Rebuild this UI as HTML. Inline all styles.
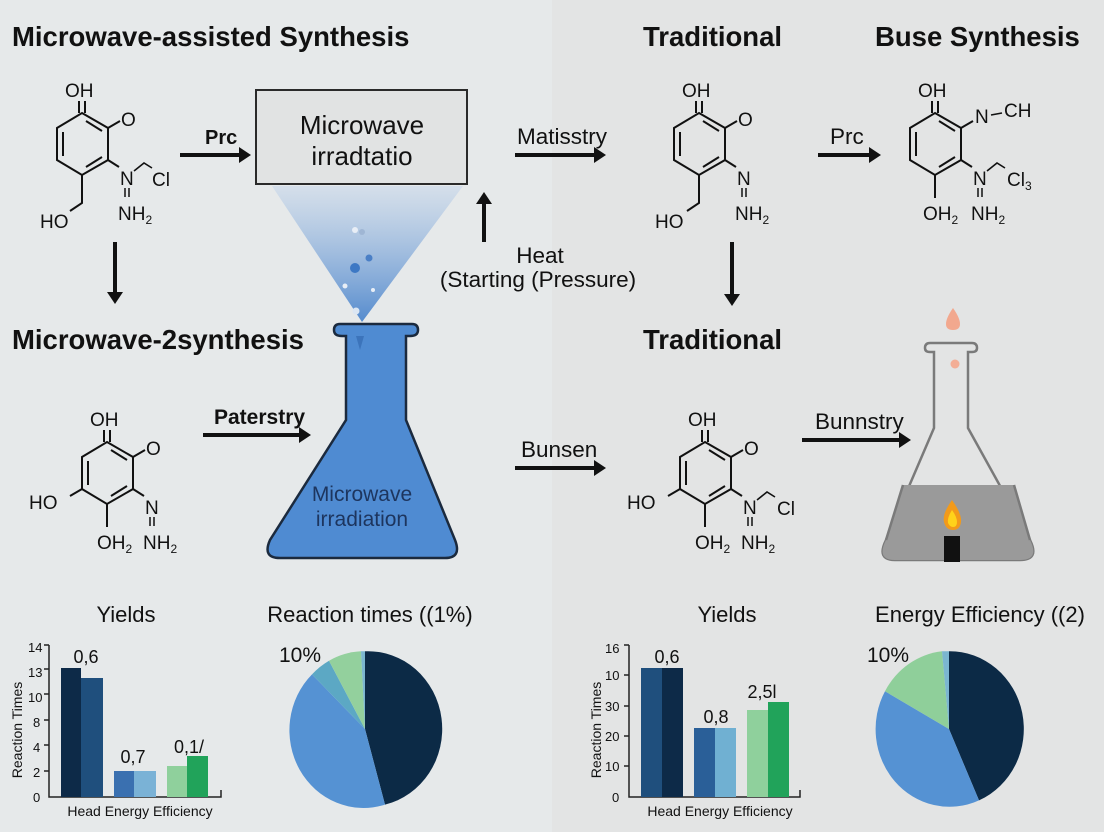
<!DOCTYPE html>
<html><head><meta charset="utf-8"><style>
html,body{margin:0;padding:0;width:1104px;height:832px;overflow:hidden;background:#e6e9ea}
svg{display:block}
text{font-family:"Liberation Sans",sans-serif;fill:#111}
.t{font-weight:bold;font-size:27.5px}
.m{font-size:19px}
.s{font-size:12px}
.l{font-size:22.5px}
</style></head><body>
<svg width="1104" height="832" viewBox="0 0 1104 832" xmlns="http://www.w3.org/2000/svg">
<defs>
<linearGradient id="beam" x1="0" y1="0" x2="0" y2="1">
<stop offset="0" stop-color="#c9d8ea" stop-opacity="0.6"/>
<stop offset="1" stop-color="#4d86cc" stop-opacity="0.95"/>
</linearGradient>
<marker id="ah" markerWidth="4" markerHeight="4" refX="1" refY="2" orient="auto" markerUnits="strokeWidth">
<path d="M0,0 L3,2 L0,4 Z" fill="#111"/>
</marker>
<g id="ring" fill="none" stroke="#111" stroke-width="2">
<path d="M0,0 L26,15 L26,47 L0,62 L-25,47 L-25,15 Z"/>
<path d="M4,8 L20,18 M20,44 L4,54 M-19,19 L-19,43"/>
<path d="M-3,0 L-3,-12 M3,0 L3,-12"/>
<path d="M26,15 L38,8"/>
<path d="M26,47 L37,54"/>
</g>
</defs>
<rect x="552" y="0" width="552" height="832" fill="#e3e4e4"/>

<!-- titles -->
<text x="12" y="46" class="t">Microwave-assisted Synthesis</text>
<text x="643" y="46" class="t">Traditional</text>
<text x="875" y="46" class="t">Buse Synthesis</text>
<text x="12" y="349" class="t">Microwave-2synthesis</text>
<text x="643" y="349" class="t">Traditional</text>

<!-- molecule 1 -->
<g transform="translate(82,113)">
<use href="#ring"/>
<text x="-17" y="-16" class="m">OH</text>
<text x="39" y="13" class="m">O</text>
<text x="38" y="72" class="m">N</text>
<path d="M43,75 L43,84 M47,75 L47,84" stroke="#111" stroke-width="1.5"/>
<text x="36" y="107" class="m">NH<tspan class="s" dy="4">2</tspan></text>
<path d="M52,58 L62,50 L70,55" fill="none" stroke="#111" stroke-width="1.6"/>
<text x="70" y="73" class="m">Cl</text>
<path d="M0,62 L0,90 L-12,98" fill="none" stroke="#111" stroke-width="2"/>
<text x="-42" y="115" class="m">HO</text>
</g>
<!-- molecule 2 -->
<g transform="translate(699,113)">
<use href="#ring"/>
<text x="-17" y="-16" class="m">OH</text>
<text x="39" y="13" class="m">O</text>
<text x="38" y="72" class="m">N</text>
<path d="M43,75 L43,84 M47,75 L47,84" stroke="#111" stroke-width="1.5"/>
<text x="36" y="107" class="m">NH<tspan class="s" dy="4">2</tspan></text>
<path d="M0,62 L0,90 L-12,98" fill="none" stroke="#111" stroke-width="2"/>
<text x="-44" y="115" class="m">HO</text>
</g>
<!-- molecule 3 -->
<g transform="translate(935,113)">
<use href="#ring"/>
<text x="-17" y="-16" class="m">OH</text>
<text x="40" y="10" class="m">N</text>
<path d="M56,2 L67,0" stroke="#111" stroke-width="1.6"/>
<text x="69" y="4" class="m">CH</text>
<text x="38" y="72" class="m">N</text>
<path d="M43,75 L43,84 M47,75 L47,84" stroke="#111" stroke-width="1.5"/>
<text x="36" y="107" class="m">NH<tspan class="s" dy="4">2</tspan></text>
<path d="M52,58 L62,50 L70,55" fill="none" stroke="#111" stroke-width="1.6"/>
<text x="72" y="73" class="m">Cl<tspan class="s" dy="4">3</tspan></text>
<path d="M0,62 L0,85" stroke="#111" stroke-width="2"/>
<text x="-12" y="107" class="m">OH<tspan class="s" dy="4">2</tspan></text>
</g>
<!-- molecule 4 -->
<g transform="translate(107,442)">
<use href="#ring"/>
<text x="-17" y="-16" class="m">OH</text>
<text x="39" y="13" class="m">O</text>
<text x="38" y="72" class="m">N</text>
<path d="M43,75 L43,84 M47,75 L47,84" stroke="#111" stroke-width="1.5"/>
<text x="36" y="107" class="m">NH<tspan class="s" dy="4">2</tspan></text>
<path d="M-25,47 L-37,54" stroke="#111" stroke-width="2"/>
<text x="-78" y="67" class="m">HO</text>
<path d="M0,62 L0,85" stroke="#111" stroke-width="2"/>
<text x="-10" y="107" class="m">OH<tspan class="s" dy="4">2</tspan></text>
</g>
<!-- molecule 5 -->
<g transform="translate(705,442)">
<use href="#ring"/>
<text x="-17" y="-16" class="m">OH</text>
<text x="39" y="13" class="m">O</text>
<text x="38" y="72" class="m">N</text>
<path d="M43,75 L43,84 M47,75 L47,84" stroke="#111" stroke-width="1.5"/>
<text x="36" y="107" class="m">NH<tspan class="s" dy="4">2</tspan></text>
<path d="M52,58 L62,50 L70,55" fill="none" stroke="#111" stroke-width="1.6"/>
<text x="72" y="73" class="m">Cl</text>
<path d="M-25,47 L-37,54" stroke="#111" stroke-width="2"/>
<text x="-78" y="67" class="m">HO</text>
<path d="M0,62 L0,85" stroke="#111" stroke-width="2"/>
<text x="-10" y="107" class="m">OH<tspan class="s" dy="4">2</tspan></text>
</g>

<!-- beam -->
<polygon points="272,186 463,186 362,322" fill="url(#beam)"/>
<circle cx="355" cy="230" r="3" fill="#e8eef6"/>
<circle cx="362" cy="232" r="3" fill="#9fb6d4"/>
<circle cx="369" cy="258" r="3.5" fill="#4a7fc6"/>
<circle cx="355" cy="268" r="5" fill="#3d78c4"/>
<circle cx="345" cy="286" r="2.5" fill="#e8eef6"/>
<circle cx="373" cy="290" r="2" fill="#e8eef6"/>
<circle cx="356" cy="311" r="3.5" fill="#dbe6f3"/>

<!-- box -->
<rect x="256" y="90" width="211" height="94" fill="#e1e3e3" stroke="#2a2a2a" stroke-width="2"/>
<text x="362" y="134" text-anchor="middle" style="font-size:26px">Microwave</text>
<text x="362" y="165" text-anchor="middle" style="font-size:26px">irradtatio</text>

<!-- left flask -->
<path d="M340,324 L412,324 Q418,324 418,330 Q418,336 410,336 L406,336 L406,420 L455,540 Q462,558 445,558 L280,558 Q262,558 270,540 L346,420 L346,336 L342,336 Q334,336 334,330 Q334,324 340,324 Z" fill="#4f8bd2" stroke="#1b2a3e" stroke-width="2.5"/>
<polygon points="356,336 364,336 360,350" fill="#3c74bb"/>
<text x="362" y="501" text-anchor="middle" style="font-size:21px;fill:#1d355e">Microwave</text>
<text x="362" y="526" text-anchor="middle" style="font-size:21px;fill:#1d355e">irradiation</text>

<!-- right flask -->
<path d="M930,343 L972,343 Q977,343 977,348 Q977,352 972,352 L968,352 L968,428 L1030,540 Q1040,560 1020,560 L895,560 Q876,560 886,540 L934,428 L934,352 L930,352 Q925,352 925,348 Q925,343 930,343 Z" fill="none" stroke="#7a7a7a" stroke-width="2.5"/>
<path d="M903,485 L1014,485 L1030,540 Q1040,560 1020,560 L895,560 Q876,560 886,540 Z" fill="#9a9a9a"/>
<path d="M886,540 L903,485 M1014,485 L1030,540" stroke="#7a7a7a" stroke-width="2.5" fill="none"/>
<path d="M953,308 Q946,318 946,324 Q946,330 953,330 Q960,330 960,324 Q960,318 953,308 Z" fill="#f2a88e"/>
<circle cx="955" cy="364" r="4.5" fill="#f3ae96"/>
<path d="M952,500 Q942,514 944,522 Q946,530 953,530 Q960,530 961,522 Q962,514 952,500 Z" fill="#f29a1a"/>
<path d="M952,510 Q947,518 948,523 Q950,527 953,527 Q957,527 957,522 Q957,517 952,510 Z" fill="#ffd21a"/>
<rect x="944" y="536" width="16" height="26" fill="#111"/>

<!-- arrows -->
<g stroke="#111" stroke-width="4" fill="none">
<path d="M180,155 L243,155" marker-end="url(#ah)"/>
<path d="M515,155 L598,155" marker-end="url(#ah)"/>
<path d="M818,155 L873,155" marker-end="url(#ah)"/>
<path d="M484,242 L484,200" marker-end="url(#ah)"/>
<path d="M115,242 L115,296" marker-end="url(#ah)"/>
<path d="M732,242 L732,298" marker-end="url(#ah)"/>
<path d="M203,435 L303,435" marker-end="url(#ah)"/>
<path d="M515,468 L598,468" marker-end="url(#ah)"/>
<path d="M802,440 L903,440" marker-end="url(#ah)"/>
</g>
<text x="205" y="144" style="font-weight:bold;font-size:20px">Prc</text>
<text x="517" y="144" class="l">Matisstry</text>
<text x="830" y="144" class="l">Prc</text>
<text x="540" y="263" text-anchor="middle" class="l">Heat</text>
<text x="538" y="287" text-anchor="middle" style="font-size:22.5px">(Starting (Pressure)</text>
<text x="214" y="424" style="font-weight:bold;font-size:21px">Paterstry</text>
<text x="521" y="457" class="l">Bunsen</text>
<text x="815" y="429" class="l">Bunnstry</text>

<!-- left bar chart -->
<text x="126" y="622" text-anchor="middle" style="font-size:22px">Yields</text>
<text x="370" y="622" text-anchor="middle" style="font-size:22px">Reaction times ((1%)</text>
<g style="font-size:13px">
<text x="28" y="652">14</text><text x="28" y="677">13</text><text x="28" y="702">10</text>
<text x="33" y="727">8</text><text x="33" y="752">4</text><text x="33" y="777">2</text><text x="33" y="802">0</text>
</g>
<path d="M49,645 L49,797 L221,797 L221,790 M44,645 L49,645 M44,669 L49,669 M44,694 L49,694 M44,720 L49,720 M44,745 L49,745 M44,771 L49,771" stroke="#222" stroke-width="1.5" fill="none"/>
<rect x="61" y="668" width="20" height="129" fill="#0d2a48"/>
<rect x="81" y="678" width="22" height="119" fill="#1f4f7d"/>
<rect x="114" y="771" width="20" height="26" fill="#3a70b0"/>
<rect x="134" y="771" width="22" height="26" fill="#7ab2d6"/>
<rect x="167" y="766" width="20" height="31" fill="#8fd09c"/>
<rect x="187" y="756" width="21" height="41" fill="#21a35a"/>
<text x="86" y="663" text-anchor="middle" style="font-size:18px">0,6</text>
<text x="133" y="763" text-anchor="middle" style="font-size:18px">0,7</text>
<text x="189" y="753" text-anchor="middle" style="font-size:18px">0,1/</text>
<text x="140" y="816" text-anchor="middle" style="font-size:14px">Head Energy Efficiency</text>
<text transform="translate(22,730) rotate(-90)" text-anchor="middle" style="font-size:14px">Reaction Times</text>

<!-- left pie -->
<g transform="translate(365,729) scale(1,1.05)">
<path d="M0,0 L0,-74 A74,74 0 0 1 20,72 Z" fill="#0c2a46"/>
<path d="M0,0 L20,72 A74,74 0 0 1 -53,-52 Z" fill="#5592d3"/>
<path d="M0,0 L-53,-52 A74,74 0 0 1 -36,-65 Z" fill="#5ca8c4"/>
<path d="M0,0 L-36,-65 A74,74 0 0 1 -4,-74 Z" fill="#93d09d"/>
<path d="M0,0 L-4,-74 A74,74 0 0 1 0,-74 Z" fill="#7bb6d0"/>
</g>
<text x="300" y="662" text-anchor="middle" style="font-size:21px">10%</text>

<!-- right bar chart -->
<text x="727" y="622" text-anchor="middle" style="font-size:22px">Yields</text>
<text x="980" y="622" text-anchor="middle" style="font-size:22px">Energy Efficiency ((2)</text>
<g style="font-size:13px">
<text x="605" y="653">16</text><text x="605" y="680">10</text><text x="605" y="711">30</text>
<text x="605" y="741">20</text><text x="605" y="771">10</text><text x="612" y="802">0</text>
</g>
<path d="M629,645 L629,797 L800,797 L800,790 M624,645 L629,645 M624,675 L629,675 M624,706 L629,706 M624,736 L629,736 M624,766 L629,766" stroke="#222" stroke-width="1.5" fill="none"/>
<rect x="641" y="668" width="21" height="129" fill="#1f4f7d"/>
<rect x="662" y="668" width="21" height="129" fill="#0d2a48"/>
<rect x="694" y="728" width="21" height="69" fill="#2a5f98"/>
<rect x="715" y="728" width="21" height="69" fill="#70b0d2"/>
<rect x="747" y="710" width="21" height="87" fill="#8fd09c"/>
<rect x="768" y="702" width="21" height="95" fill="#21a35a"/>
<text x="667" y="663" text-anchor="middle" style="font-size:18px">0,6</text>
<text x="716" y="723" text-anchor="middle" style="font-size:18px">0,8</text>
<text x="762" y="698" text-anchor="middle" style="font-size:18px">2,5l</text>
<text x="720" y="816" text-anchor="middle" style="font-size:14px">Head Energy Efficiency</text>
<text transform="translate(601,730) rotate(-90)" text-anchor="middle" style="font-size:14px">Reaction Times</text>

<!-- right pie -->
<g transform="translate(949,729) scale(1,1.05)">
<path d="M0,0 L0,-74 A74,74 0 0 1 30,68 Z" fill="#0c2a46"/>
<path d="M0,0 L30,68 A74,74 0 0 1 -64,-36 Z" fill="#5592d3"/>
<path d="M0,0 L-64,-36 A74,74 0 0 1 -7,-74 Z" fill="#8fcf9a"/>
<path d="M0,0 L-7,-74 A74,74 0 0 1 0,-74 Z" fill="#7bb6d0"/>
</g>
<text x="888" y="662" text-anchor="middle" style="font-size:21px">10%</text>
</svg>
</body></html>
